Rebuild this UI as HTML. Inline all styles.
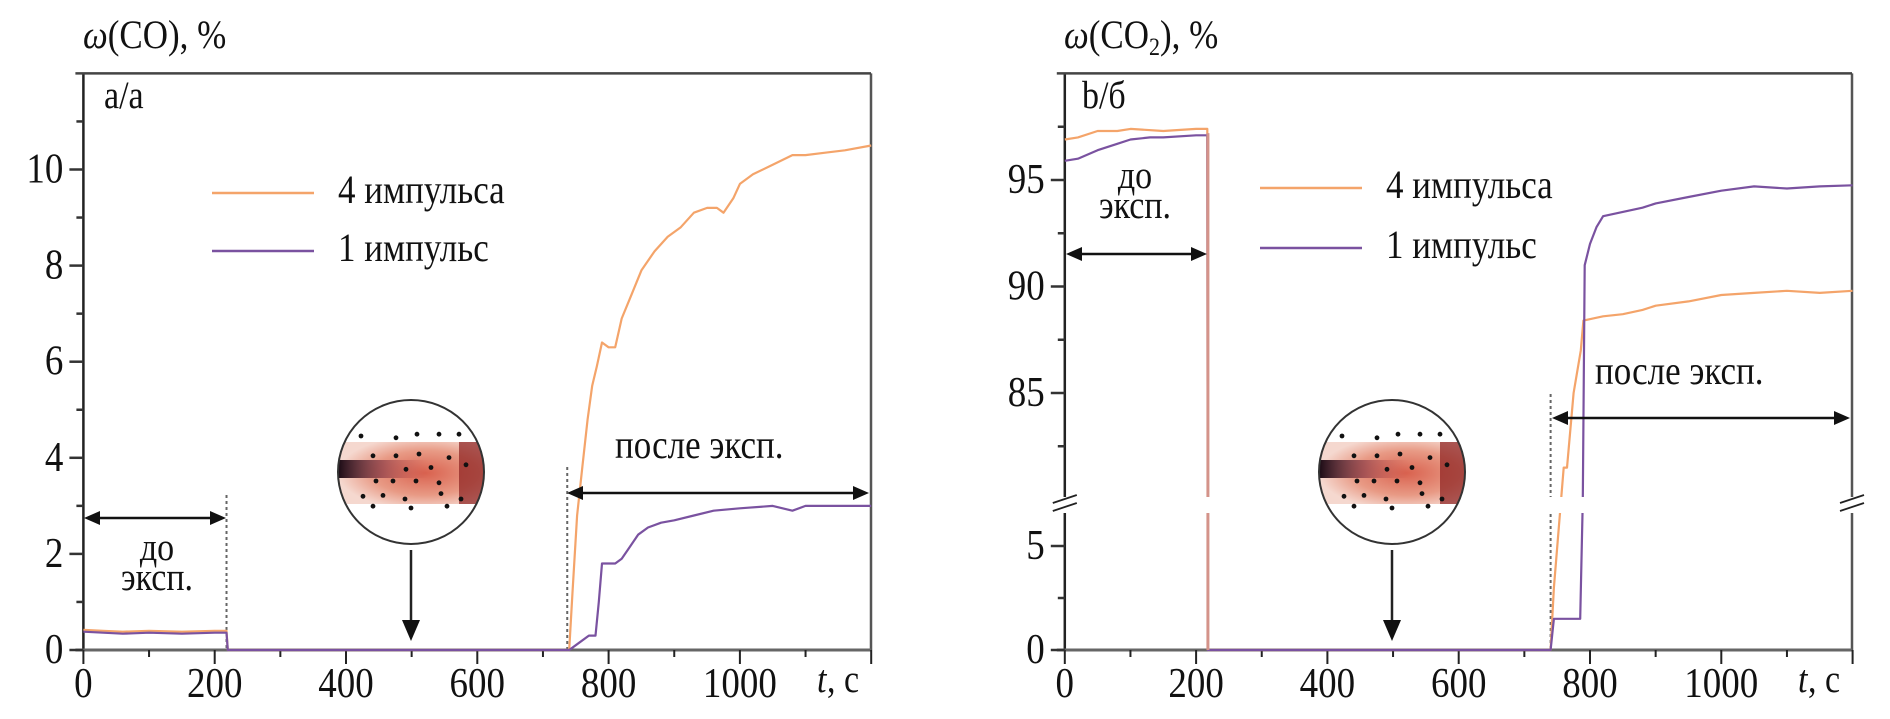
<!DOCTYPE html>
<html><head><meta charset="utf-8"><style>
html,body{margin:0;padding:0;background:#fff;width:1890px;height:719px;overflow:hidden}
text{font-family:"Liberation Serif","DejaVu Serif","Times New Roman",serif;fill:#111}
</style></head><body>
<svg id="chart" width="1890" height="719" viewBox="0 0 1890 719" xmlns="http://www.w3.org/2000/svg">
<defs>
<radialGradient id="flame" cx="0.6" cy="0.5" r="0.6">
<stop offset="0" stop-color="#d9624f"/><stop offset="0.6" stop-color="#e89a85"/><stop offset="1" stop-color="#f5d8cf"/>
</radialGradient>
<linearGradient id="core" x1="0" x2="1"><stop offset="0" stop-color="#1a0a14"/><stop offset="0.5" stop-color="#7a2a3a" stop-opacity="0.6"/><stop offset="1" stop-color="#c04040" stop-opacity="0"/></linearGradient>
</defs>
</svg>
<script>
// ---- data ----
const xTicks = [0,200,400,600,800,1000];
const coYTicks = [0,2,4,6,8,10];
const co2UpperTicks = [85,90,95];
const co2LowerTicks = [0,5];
const coT4 = [0,30,60,100,150,200,218,220,740,745,752,760,768,775,782,790,800,810,820,835,850,870,890,910,930,950,965,975,990,1000,1020,1050,1080,1100,1130,1160,1200];
const coV4 = [0.42,0.4,0.38,0.4,0.38,0.4,0.4,0,0,1.2,2.8,3.8,4.8,5.5,5.9,6.4,6.3,6.3,6.9,7.4,7.9,8.3,8.6,8.8,9.1,9.2,9.2,9.1,9.4,9.7,9.9,10.1,10.3,10.3,10.35,10.4,10.5];
const coT1 = [0,30,60,100,150,200,218,220,740,750,770,780,785,790,810,820,830,845,860,880,900,930,960,1000,1050,1080,1100,1150,1200];
const coV1 = [0.38,0.36,0.34,0.36,0.34,0.36,0.36,0,0,0.1,0.3,0.3,1.0,1.8,1.8,1.9,2.1,2.4,2.55,2.65,2.7,2.8,2.9,2.95,3.0,2.9,3.0,3.0,3.0];
const co2T4 = [0,20,50,80,100,150,200,217,218,740,745,760,765,775,786,790,820,850,880,900,950,1000,1050,1100,1150,1200];
const co2V4 = [96.9,97.0,97.3,97.3,97.4,97.3,97.4,97.4,0,0,3,81.5,81.5,85,87,88.4,88.6,88.7,88.9,89.1,89.3,89.6,89.7,89.8,89.7,89.8];
const co2T1 = [0,20,50,80,100,130,150,200,217,218,740,745,785,789,792,800,810,820,850,880,900,950,1000,1050,1100,1150,1200];
const co2V1 = [95.9,96.0,96.4,96.7,96.9,97.0,97.0,97.1,97.1,0,0,1.5,1.5,80,91,92.0,92.8,93.3,93.5,93.7,93.9,94.2,94.5,94.7,94.6,94.7,94.75];

const NS='http://www.w3.org/2000/svg';
const svg=document.getElementById('chart');
const FF='"Liberation Serif","DejaVu Serif",serif';
function mk(tag,attrs,parent){const e=document.createElementNS(NS,tag);for(const k in attrs)e.setAttribute(k,attrs[k]);(parent||svg).appendChild(e);return e;}
function txt(x,y,s,size,anchor,parent){const t=mk('text',{x:0,y:0,'font-size':size,'font-family':FF,'text-anchor':anchor||'start',transform:`translate(${x},${y}) scale(1,1.15)`},parent);t.textContent=s;return t;}

const Y0=650, YT=73.4;
function xL(t){return 83.4+0.6565*t;}
function xR(t){return 1064.8+0.6565*t;}
function yCO(v){return Y0-(Y0-YT)*v/12;}
function yCO2(v){return v>40 ? 393+(85-v)*21.3 : Y0-20.8*v;}

function frame(x0,x1,name,broken){
  const g=mk('g',{});
  
  
  mk('line',{x1:x0,y1:YT,x2:x0,y2:Y0,stroke:'#222','stroke-width':2.5},g);
  mk('line',{x1:x1,y1:YT,x2:x1,y2:Y0,stroke:'#555','stroke-width':2.5},g);
  mk('line',{x1:x0-8,y1:YT,x2:x1,y2:YT,stroke:'#444','stroke-width':2.5},g);
  mk('line',{x1:x0-8,y1:Y0,x2:x1,y2:Y0,stroke:'#666','stroke-width':3},g);
  return g;
}

function panel(xf,x0,x1,name,broken,yf,majT,minT){
  const g=frame(x0,x1,name+'-axes',broken);
  for(let t=0;t<=1200;t+=100){
    const major=t%200===0;
    mk('line',{x1:xf(t),y1:Y0,x2:xf(t),y2:Y0+(major?14:7),stroke:'#222','stroke-width':2},g);
  }
  xTicks.forEach(t=>{const e=txt(xf(t),697,String(t),37,'middle');
    
    });
  majT.forEach(v=>{mk('line',{x1:x0-14,y1:yf(v),x2:x0,y2:yf(v),stroke:'#333','stroke-width':2.5},g);
    const e=txt(x0-20,yf(v)+13,String(v),37,'end');
    
    });
  minT.forEach(v=>mk('line',{x1:x0-7,y1:yf(v),x2:x0,y2:yf(v),stroke:'#333','stroke-width':2.5},g));
  const tl=txt(x1-54,692,'t',34,'start');tl.setAttribute('font-style','italic');
  
  
  const tc=txt(x1-44,692,', с',34,'start');
  
  
}

function series(xf,yf,T,V,color,name,w){
  const pts=T.map((t,i)=>xf(t).toFixed(1)+','+yf(V[i]).toFixed(1)).join(' ');
  const p=mk('polyline',{points:pts,fill:'none',stroke:color,'stroke-width':w||2.2,'stroke-linejoin':'round'});
  
  
}

function arrowH(xa,xb,y,name){
  const g=mk('g',{});
  
  
  mk('line',{x1:xa+6,y1:y,x2:xb-6,y2:y,stroke:'#111','stroke-width':2.5},g);
  mk('polygon',{points:`${xa},${y} ${xa+16},${y-7} ${xa+16},${y+7}`,fill:'#111'},g);
  mk('polygon',{points:`${xb},${y} ${xb-16},${y-7} ${xb-16},${y+7}`,fill:'#111'},g);
}
function dotted(x,ya,yb,name){
  const l=mk('line',{x1:x,y1:ya,x2:x,y2:yb,stroke:'#666','stroke-width':2,'stroke-dasharray':'3,3'});
  
  
}
function inset(cx,cy,name){
  const g=mk('g',{});
  
  
  const cid='clip'+Math.round(cx);
  const cp=mk('clipPath',{id:cid},g);mk('ellipse',{cx:cx,cy:cy,rx:73,ry:72},cp);
  const gi=mk('g',{'clip-path':`url(#${cid})`},g);
  mk('rect',{x:cx-73,y:cy-30,width:146,height:62,fill:'url(#flame)'},gi);
  mk('rect',{x:cx-73,y:cy-12,width:90,height:18,fill:'url(#core)'},gi);
  mk('rect',{x:cx+48,y:cy-30,width:25,height:62,fill:'#8a2020',opacity:0.7},gi);
  const dots=[[-50,-40],[-15,-38],[6,-42],[28,-42],[48,-42],[-38,-18],[-15,-18],[8,-20],[38,-16],[-5,-3],[20,-5],[55,-8],[-35,10],[-18,10],[5,10],[28,12],[-48,27],[-28,26],[-6,30],[30,24],[50,30],[-38,38],[0,40],[36,38]];
  dots.forEach(d=>mk('circle',{cx:cx+d[0],cy:cy+d[1]*0.9,r:2.4,fill:'#111'},gi));
  mk('ellipse',{cx:cx,cy:cy,rx:73,ry:72,fill:'none',stroke:'#333','stroke-width':2},g);
  mk('line',{x1:cx,y1:550,x2:cx,y2:625,stroke:'#222','stroke-width':2.5},g);
  mk('polygon',{points:`${cx-9},${620} ${cx+9},${620} ${cx},${641}`,fill:'#111'},g);
}
function legend(lx,y1,y2){
  const a=mk('line',{x1:lx,y1:y1,x2:lx+102,y2:y1,stroke:'#f4a46a','stroke-width':2.5});
  
  
  const b=mk('line',{x1:lx,y1:y2,x2:lx+102,y2:y2,stroke:'#7a52a0','stroke-width':2.5});
  
  
  const t1=txt(lx+126,y1+10,'4 импульса',35);
  
  
  const t2=txt(lx+126,y2+10,'1 импульс',35);
  
  
}

// ---- left panel (CO) ----
panel(xL,83.4,871,'co-panel',false,yCO,coYTicks,[1,3,5,7,9,11]);
dotted(xL(218),495,Y0,'co-before-boundary');
dotted(xL(737),467,Y0,'co-after-boundary');
series(xL,yCO,coT4,coV4,'#f4a46a','co-line-4-pulses');
series(xL,yCO,coT1,coV1,'#7a52a0','co-line-1-pulse');
arrowH(84,226,518,'co-before-arrow');
arrowH(567,869,493,'co-after-arrow');
inset(411,472,'co-flame-inset');
legend(212,193,251);
let e;
e=txt(83,48,'',35);
const w1=mk('tspan',{'font-style':'italic'},e);w1.textContent='ω';
const r1=mk('tspan',{},e);r1.textContent='(CO), %';

e=txt(104,108,'a/a',34);
e=txt(157,560,'до',34,'middle');
e=txt(157,590,'эксп.',34,'middle');
e=txt(615,458,'после эксп.',35);

// ---- right panel (CO2) ----
panel(xR,1064.8,1852,'co2-panel',true,yCO2,[...co2LowerTicks,...co2UpperTicks],[2.5,82.5,87.5,92.5,97.5]);
dotted(xR(740),394,Y0,'co2-after-boundary');
series(xR,yCO2,co2T4,co2V4,'#f4a46a','co2-line-4-pulses');
series(xR,yCO2,co2T1,co2V1,'#7a52a0','co2-line-1-pulse');
const dl=mk('line',{x1:xR(218),y1:yCO2(97.2),x2:xR(218),y2:Y0,stroke:'#d4938a','stroke-width':3});


const gp=mk('rect',{x:1060,y:497,width:800,height:16,fill:'#fff'});


for(const xx of [1064.8,1852]){
  const b1=mk('line',{x1:xx-12,y1:503,x2:xx+12,y2:495,stroke:'#222','stroke-width':1.8});
  
  
  const b2=mk('line',{x1:xx-12,y1:511,x2:xx+12,y2:503,stroke:'#222','stroke-width':1.8});
  
  
}
arrowH(1066,1207,254,'co2-before-arrow');
arrowH(1552,1850,418,'co2-after-arrow');
inset(1392,472,'co2-flame-inset');
legend(1260,188,248);
e=txt(1064,48,'',35);
const w2=mk('tspan',{'font-style':'italic'},e);w2.textContent='ω';
const r2=mk('tspan',{},e);r2.textContent='(CO';
const s2=mk('tspan',{'font-size':22,dy:6},e);s2.textContent='2';
const r3=mk('tspan',{dy:-6},e);r3.textContent='), %';

e=txt(1082,108,'b/б',34);
e=txt(1135,188,'до',34,'middle');
e=txt(1135,218,'эксп.',34,'middle');
e=txt(1595,384,'после эксп.',35);
</script>
</body></html>
